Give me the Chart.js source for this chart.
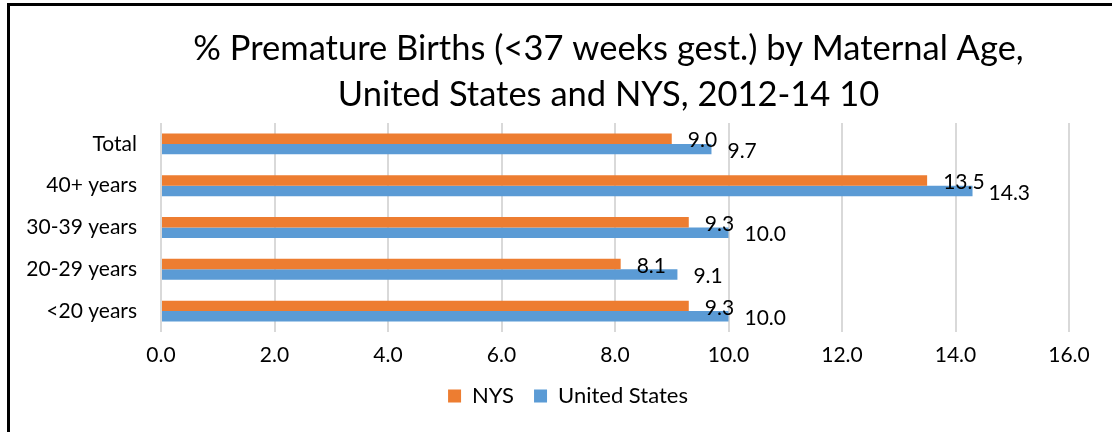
<!DOCTYPE html>
<html>
<head>
<meta charset="utf-8">
<script src="https://cdn.jsdelivr.net/npm/chart.js@4"></script>
<style>
  html, body { margin: 0; padding: 0; background: #fff; overflow: hidden; width: 1112px; height: 432px; }
  #frame { position: absolute; left: 7px; top: 3px; border: 3px solid #000; background: #fff; }
  #chart { display: block; }
</style>
</head>
<body>
<div id="frame"><canvas id="chart" width="1200" height="440"></canvas></div>
<script>
const categories = ['Total', '40+ years', '30-39 years', '20-29 years', '<20 years'];
const nysValues = [9.0, 13.5, 9.3, 8.1, 9.3];
const usValues = [9.7, 14.3, 10.0, 9.1, 10.0];
const xTicks = [0, 2, 4, 6, 8, 10, 12, 14, 16];

const titleLines = [
  '% Premature Births (<37 weeks gest.) by Maternal Age,',
  'United States and NYS, 2012-14 10'
];

Chart.defaults.font.family = 'Lato';
Chart.defaults.color = '#000';

// value labels to the right of each bar
const barValueLabels = {
  id: 'barValueLabels',
  afterDatasetsDraw(chart) {
    const ctx = chart.ctx;
    ctx.save();
    ctx.font = '21px Lato';
    ctx.fillStyle = '#000';
    ctx.textBaseline = 'middle';
    ctx.textAlign = 'left';
    chart.data.datasets.forEach((ds, i) => {
      chart.getDatasetMeta(i).data.forEach((bar, j) => {
        ctx.fillText(ds.data[j].toFixed(1), bar.x + 16, bar.y + 2);
      });
    });
    ctx.restore();
  }
};

// title and legend are not centred on the same line in the original
const boxShift = {
  id: 'boxShift',
  afterLayout(chart) {
    chart.titleBlock.left -= 6.5;
    chart.titleBlock.right -= 6.5;
    chart.legend.left += 28.5;
    chart.legend.right += 28.5;
  }
};

new Chart(document.getElementById('chart'), {
  type: 'bar',
  data: {
    labels: categories,
    datasets: [
      { label: 'NYS', data: nysValues, backgroundColor: '#ED7D31' },
      { label: 'United States', data: usValues, backgroundColor: '#5B9BD5' }
    ]
  },
  options: {
    indexAxis: 'y',
    responsive: false,
    animation: false,
    datasets: { bar: { categoryPercentage: 0.5, barPercentage: 1.0 } },
    layout: { padding: { top: 20, left: 0, right: 141, bottom: 29 } },
    plugins: {
      title: {
        display: true,
        fullSize: false,
        text: titleLines,
        color: '#000',
        font: { size: 34.5, weight: 'normal', lineHeight: 46 / 34.5 },
        padding: { top: 0, bottom: 5 }
      },
      legend: {
        position: 'bottom',
        labels: {
          boxWidth: 13,
          boxHeight: 13,
          padding: 20,
          color: '#000',
          font: { size: 22 }
        }
      },
      tooltip: { enabled: false }
    },
    scales: {
      x: {
        min: 0,
        max: 16,
        afterBuildTicks: axis => { axis.ticks = xTicks.map(v => ({ value: v })); },
        afterFit: axis => { axis.height = 33; },
        grid: { color: '#d9d9d9', lineWidth: 2, drawTicks: false },
        border: { display: false },
        ticks: {
          padding: 11,
          font: { size: 21 },
          color: '#000',
          callback: v => Number(v).toFixed(1)
        }
      },
      y: {
        afterFit: axis => { axis.width = 151; },
        grid: { display: false, drawTicks: false },
        border: { display: false },
        ticks: { padding: 24, font: { size: 21 }, color: '#000' }
      }
    }
  },
  plugins: [barValueLabels, boxShift]
});
</script>
</body>
</html>
